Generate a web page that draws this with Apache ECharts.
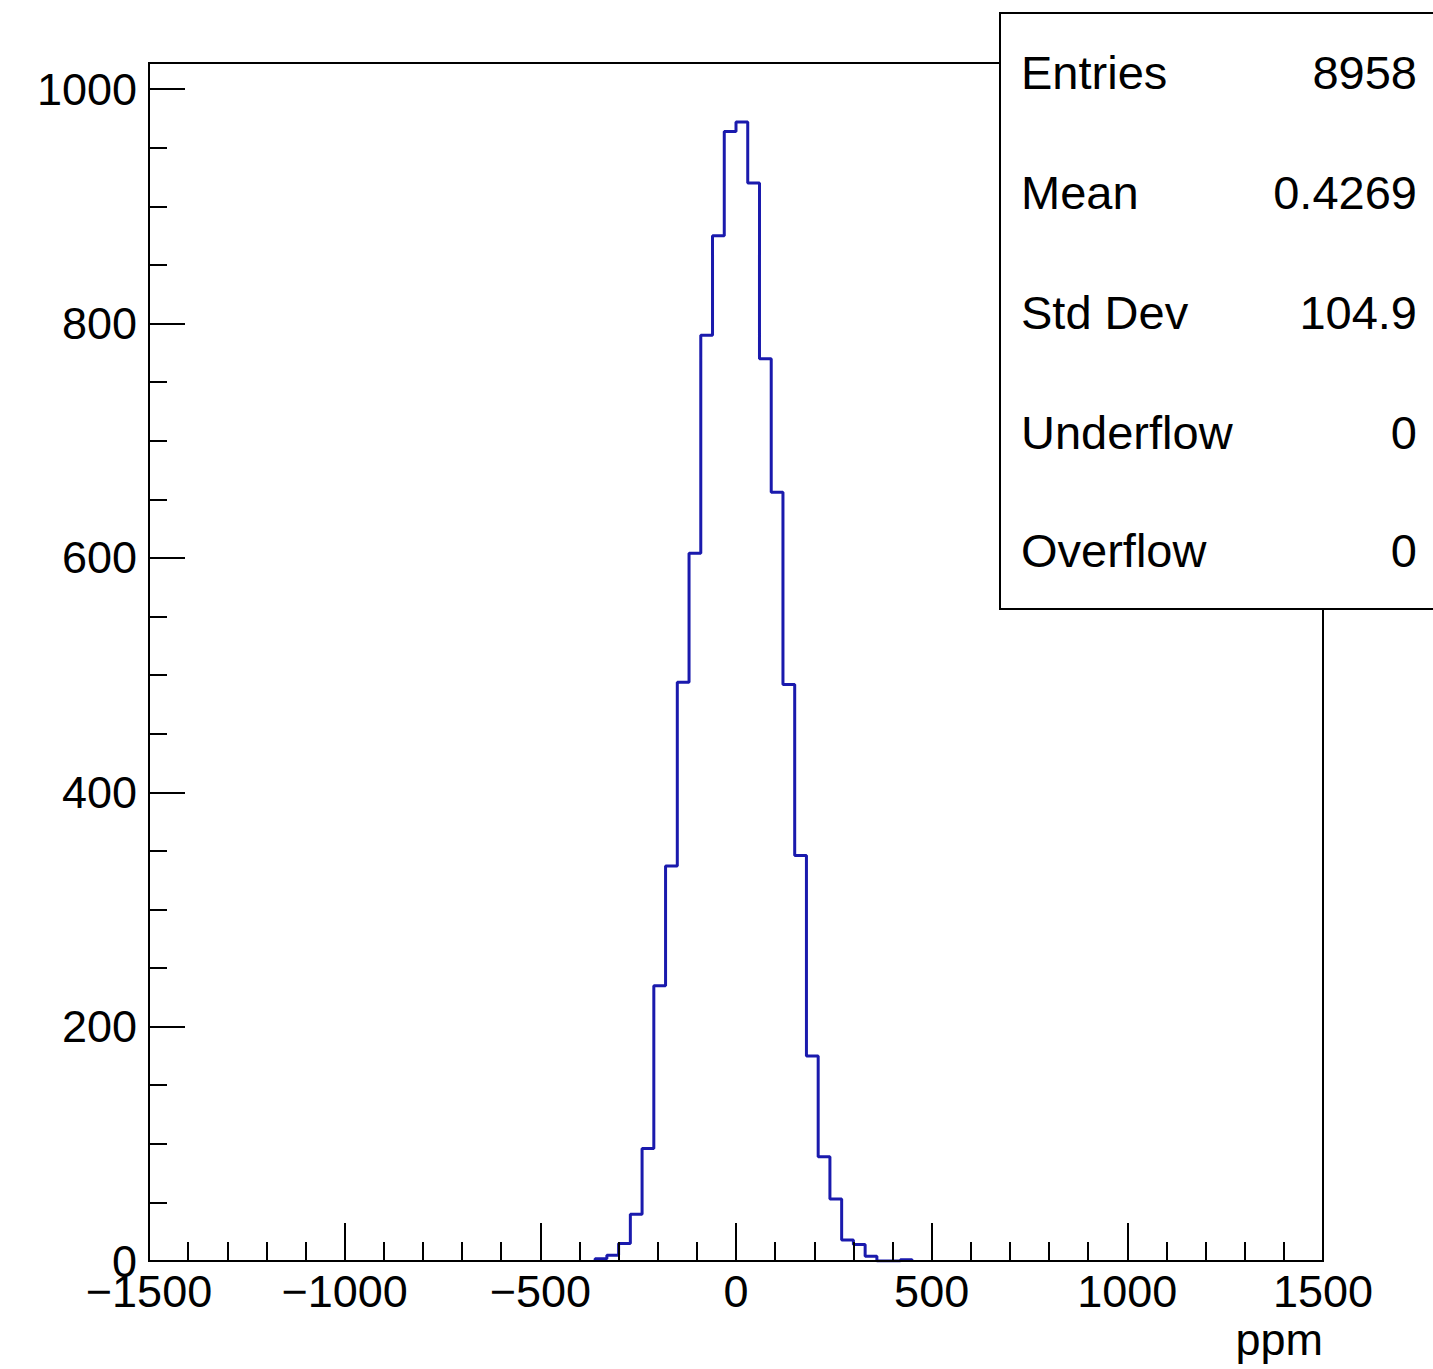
<!DOCTYPE html>
<html>
<head>
<meta charset="utf-8">
<script src="https://cdn.jsdelivr.net/npm/echarts@6/dist/echarts.min.js"></script>
<style>
html,body{margin:0;padding:0;background:#fff;}
#chart{width:1433px;height:1369px;}
</style>
</head>
<body>
<div id="chart"></div>
<script>
// Histogram bins (lower edges, ppm) and counts
const binLow = [-360,-330,-300,-270,-240,-210,-180,-150,-120,-90,-60,-30,0,30,60,90,120,150,180,210,240,270,300,330,360,390,420];
const counts = [2,5,15,40,96,235,337,494,604,790,875,964,972,920,770,656,492,346,175,89,53,18,14,4,0,0,1];
const histEnd = 450;

// Axis ranges / ticks
const xRange = [-1500, 1500];
const xMajor = 500;
const yRange = [0, 1022.4];
const yMajor = 200;
const yMinor = 50;

// Stats box
const statsLabels = ['Entries', 'Mean', 'Std Dev', 'Underflow', 'Overflow'];
const statsValues = ['8958', '0.4269', '104.9', '0', '0'];

const FONT = "'Liberation Sans', Arial, Helvetica, sans-serif";

const seriesData = [[binLow[0], 0]];
binLow.forEach((x, i) => seriesData.push([x, counts[i]]));
seriesData.push([histEnd, 0]);

const rowY = [72, 192, 312, 432, 550];
const graphics = [{
  type: 'rect', z: 100,
  shape: {x: 1000, y: 13, width: 460, height: 596},
  style: {fill: '#fff', stroke: '#000', lineWidth: 2}
}];
statsLabels.forEach((t, i) => {
  graphics.push({type: 'text', z: 101, x: 1021, y: rowY[i],
    style: {text: t, font: '47px ' + FONT, fill: '#000', align: 'left', verticalAlign: 'middle'}});
  graphics.push({type: 'text', z: 101, x: 1417, y: rowY[i],
    style: {text: statsValues[i], font: '47px ' + FONT, fill: '#000', align: 'right', verticalAlign: 'middle'}});
});

const chart = echarts.init(document.getElementById('chart'), null, {renderer: 'svg'});
chart.setOption({
  animation: false,
  backgroundColor: '#fff',
  grid: {left: 149, right: 110, top: 63, bottom: 108, show: true, borderColor: '#000', borderWidth: 2,
         outerBoundsMode: 'none', containLabel: false},
  xAxis: {
    type: 'value', min: xRange[0], max: xRange[1], interval: xMajor, z: 5,
    name: 'ppm', nameLocation: 'end', nameGap: 0,
    nameTextStyle: {fontFamily: FONT, fontSize: 45, color: '#000', align: 'right', verticalAlign: 'top', padding: [56, 0, 0, 0]},
    axisLine: {show: true, onZero: false, lineStyle: {color: '#000', width: 2}},
    axisTick: {show: true, inside: true, length: 38, lineStyle: {color: '#000', width: 2}},
    minorTick: {show: true, splitNumber: 5, length: 19, lineStyle: {color: '#000', width: 2}},
    splitLine: {show: false},
    axisLabel: {margin: 8, fontFamily: FONT, fontSize: 45, color: '#000',
      formatter: v => String(v).replace('-', '\u2212')}
  },
  yAxis: [{
    type: 'value', min: yRange[0], max: yRange[1], interval: yMajor, position: 'left',
    axisLine: {show: true, onZero: false, lineStyle: {color: '#000', width: 2}},
    axisTick: {show: true, inside: true, length: 36, lineStyle: {color: '#000', width: 2}},
    splitLine: {show: false},
    axisLabel: {margin: 12, fontFamily: FONT, fontSize: 45, color: '#000', showMaxLabel: false,
      formatter: v => (v % yMajor === 0 ? String(v) : '')}
  }, {
    type: 'value', min: yRange[0], max: yRange[1], interval: yMinor, position: 'left',
    axisLine: {show: false, onZero: false},
    axisTick: {show: true, inside: true, length: 18, lineStyle: {color: '#000', width: 2}},
    splitLine: {show: false},
    axisLabel: {show: false}
  }],
  series: [{
    type: 'line', step: 'end', yAxisIndex: 0, symbol: 'none', z: 2,
    lineStyle: {color: '#1a1aad', width: 3},
    data: seriesData
  }],
  graphic: graphics
});
</script>
</body>
</html>
